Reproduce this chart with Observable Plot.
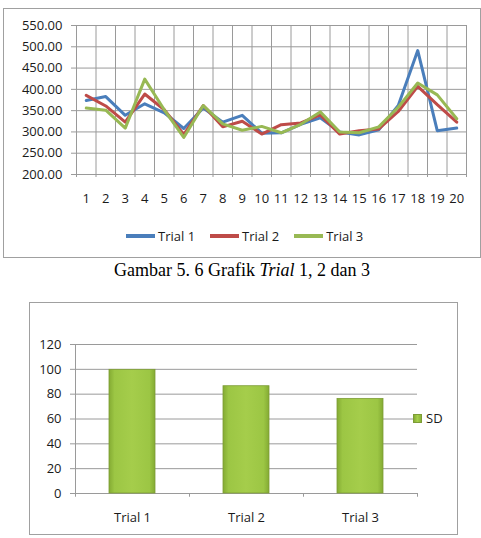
<!DOCTYPE html>
<html><head><meta charset="utf-8">
<script src="https://cdn.jsdelivr.net/npm/d3@7"></script>
<script src="https://cdn.jsdelivr.net/npm/@observablehq/plot@0.6"></script>
<style>
body{margin:0;background:#fff;width:481px;height:538px;position:relative;overflow:hidden;font-family:"Open Sans",sans-serif;color:#1a1a1a;}
.frame{position:absolute;border:1px solid #a0a0a0;box-sizing:border-box;}
.abs{position:absolute;}
#leg1{position:absolute;left:126px;top:228px;display:flex;align-items:center;gap:15px;font-size:13px;line-height:16px;}
#leg1 .item{display:flex;align-items:center;gap:3px;}
#leg1 .sw{width:29px;height:4px;}
#cap{position:absolute;left:0;width:484px;top:261px;text-align:center;font-family:"Liberation Serif","Times New Roman",serif;font-size:18px;line-height:18px;color:#000;}
#leg2{position:absolute;left:413px;top:410px;display:flex;align-items:center;gap:4px;font-size:13px;line-height:16px;}
#leg2 .sw{width:9px;height:9px;background:linear-gradient(90deg,#86ad35,#a6cf4c,#8ab337);border:0.5px solid #7d9c36;box-sizing:border-box;}
</style></head><body>
<div class="frame" style="left:3px;top:8px;width:478px;height:250px"></div>
<div id="c1" class="abs" style="left:0;top:0"></div>
<div id="leg1"></div>
<div id="cap">Gambar 5. 6 Grafik <i>Trial</i> 1, 2 dan 3</div>
<div class="frame" style="left:29px;top:302px;width:429px;height:233px"></div>
<div id="c2" class="abs" style="left:0;top:300px"></div>
<div id="leg2"><div class="sw"></div><span>SD</span></div>
<script>
// ---- Chart 1 data ----
const categories = [1,2,3,4,5,6,7,8,9,10,11,12,13,14,15,16,17,18,19,20];
const trial1 = [374,383,339,366,345,308,356,323,339,297,298,318,333,300,293,305,362,491,303,309];
const trial2 = [386,361,323,389,352,294,362,312,325,295,317,321,340,295,303,307,348,407,364,323];
const trial3 = [356,351,309,424,352,287,362,319,304,313,298,318,347,300,298,312,358,415,387,331];
const seriesNames = ["Trial 1","Trial 2","Trial 3"];
const seriesColors = ["#4a7ebb","#be4b48","#98b954"];
const yTicks1 = [200,250,300,350,400,450,500,550];

// ---- Chart 2 data ----
const barCats = ["Trial 1","Trial 2","Trial 3"];
const sdValues = [99.6,86.4,76.2];
const yTicks2 = [0,20,40,60,80,100,120];

const rows = [];
[trial1,trial2,trial3].forEach((vals,i)=>vals.forEach((v,j)=>rows.push({x:categories[j],y:v,s:seriesNames[i]})));
const bounds = categories.map(c=>c-0.5).concat([categories[categories.length-1]+0.5]);
const grid = "#9a9a9a";

const p1 = Plot.plot({
  width:481, height:210, marginLeft:76, marginRight:15, marginTop:25, marginBottom:36,
  style:{background:"transparent", fontFamily:"Open Sans", fontSize:"13px", color:"#1a1a1a", overflow:"visible"},
  x:{type:"linear", domain:[bounds[0], bounds[bounds.length-1]]},
  y:{domain:[200,550]},
  color:{domain:seriesNames, range:seriesColors},
  marks:[
    Plot.ruleY(yTicks1, {stroke:grid, strokeWidth:1}),
    Plot.ruleX(bounds, {stroke:grid, strokeWidth:1, insetBottom:-3}),
    Plot.axisY({ticks:yTicks1, tickFormat:d=>d.toFixed(2), tickSize:5, tickPadding:9, stroke:grid, fill:"#1a1a1a", label:null}),
    Plot.axisX({ticks:categories, tickFormat:d=>String(d), tickSize:0, tickPadding:19, fill:"#1a1a1a", label:null}),
    Plot.line(rows, {x:"x", y:"y", z:"s", stroke:"s", strokeWidth:3})
  ]
});
document.getElementById("c1").appendChild(p1);

const leg1 = document.getElementById("leg1");
seriesNames.forEach((n,i)=>{
  const it = document.createElement("div"); it.className="item";
  const sw = document.createElement("div"); sw.className="sw"; sw.style.background=seriesColors[i];
  const t = document.createElement("span"); t.textContent=n;
  it.appendChild(sw); it.appendChild(t); leg1.appendChild(it);
});

const half = (481-75-64)/barCats.length/2;
const p2 = Plot.plot({
  width:481, height:230, marginLeft:75, marginRight:64, marginTop:44, marginBottom:37,
  style:{background:"transparent", fontFamily:"Open Sans", fontSize:"13px", color:"#1a1a1a", overflow:"visible"},
  x:{type:"band", domain:barCats, paddingInner:0.6, paddingOuter:0.3},
  y:{domain:[0,120]},
  marks:[
    Plot.ruleY(yTicks2, {stroke:grid, strokeWidth:1}),
    Plot.ruleX([barCats[0]], {x:d=>d, dx:-half, y1:0, y2:120, stroke:grid}),
    Plot.ruleX(barCats, {x:d=>d, dx:-half, y1:0, y2:-3, stroke:grid}),
    Plot.ruleX([barCats[barCats.length-1]], {x:d=>d, dx:half, y1:0, y2:-3, stroke:grid}),
    Plot.axisY({ticks:yTicks2, tickSize:5, tickPadding:9, stroke:grid, fill:"#1a1a1a", label:null}),
    Plot.axisX({tickSize:0, tickPadding:19, fill:"#1a1a1a", label:null}),
    Plot.barY(barCats.map((c,i)=>({c, v:sdValues[i]})), {x:"c", y:"v", fill:"url(#sdGrad)", stroke:"#7d9c36", strokeWidth:0.8})
  ]
});
const defs = d3.select(p2).insert("defs", ":first-child");
const g = defs.append("linearGradient").attr("id","sdGrad").attr("x1","0").attr("x2","1").attr("y1","0").attr("y2","0");
g.append("stop").attr("offset","0").attr("stop-color","#84ab33");
g.append("stop").attr("offset","0.12").attr("stop-color","#9cc644");
g.append("stop").attr("offset","0.5").attr("stop-color","#a5cd4b");
g.append("stop").attr("offset","0.88").attr("stop-color","#9cc644");
g.append("stop").attr("offset","1").attr("stop-color","#84ab33");
document.getElementById("c2").appendChild(p2);
</script>
</body></html>
